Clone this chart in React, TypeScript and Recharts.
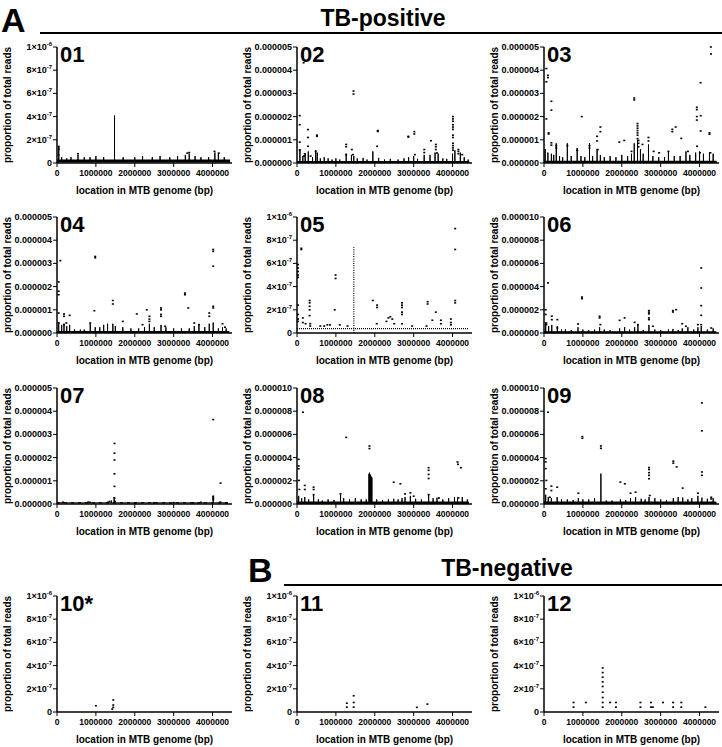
import React from "react";
import { ScatterChart, Scatter, XAxis, YAxis } from "recharts";

// [position in kb, proportion of total reads in units of 1e-8]
type Pt = [number, number];

const FONT = "'Liberation Sans', Arial, Helvetica, sans-serif";

const X_TICKS = [0, 1000000, 2000000, 3000000, 4000000];
const X_MAX = 4500000;
const Y_TICKS_SCI = [0, 20, 40, 60, 80, 100];
const Y_TICKS_5 = [0, 100, 200, 300, 400, 500];
const Y_TICKS_10 = [0, 200, 400, 600, 800, 1000];

// ---- 01 ----
const P01_SPIKES: Pt[] = [
  [45, 14], [120, 5], [250, 4], [360, 5], [540, 7], [700, 5], [850, 5], [1000, 6], [1200, 5],
  [1479, 41], [1700, 5], [2000, 5], [2200, 6], [2450, 5], [2650, 6], [2900, 5], [3100, 6],
  [3300, 7], [3400, 8], [3550, 6], [3700, 5], [3900, 5], [4060, 9], [4150, 8], [4300, 5],
];
const P01_DOTS: Pt[] = [
  [45, 14.3], [45, 12], [40, 7], [540, 8], [3350, 8.5], [3400, 9], [4050, 10], [4160, 8.5],
];

// ---- 02 ----
const P02_SPIKES: Pt[] = [
  [75, 60], [150, 30], [210, 40], [290, 50], [400, 25], [480, 55], [520, 45], [600, 20],
  [700, 25], [800, 20], [900, 15], [1000, 20], [1100, 15], [1265, 40], [1400, 35], [1460, 30],
  [1550, 20], [1700, 22], [1800, 15], [1950, 50], [2100, 22], [2250, 15], [2400, 18], [2600, 15],
  [2750, 20], [2870, 25], [3000, 30], [3100, 18], [3270, 35], [3420, 35], [3550, 45], [3630, 40],
  [3750, 20], [3850, 18], [4000, 40], [4060, 55], [4200, 45], [4300, 25], [4400, 15],
];
const P02_DOTS: Pt[] = [
  [170, 432], [70, 204], [70, 165], [70, 90], [70, 55], [282, 144], [282, 110], [282, 72],
  [513, 120], [513, 115], [480, 50], [1265, 80], [1265, 70], [1265, 36], [1410, 58], [1453, 310],
  [1453, 297], [1440, 36], [2077, 140], [2077, 136], [2060, 72], [2863, 115], [2863, 112],
  [3017, 135], [3017, 125], [3030, 36], [3273, 58], [3273, 45], [3444, 96], [3570, 80], [3570, 70],
  [3570, 58], [3600, 43], [4010, 200], [4010, 190], [4010, 180], [4010, 165], [4010, 155],
  [4010, 145], [4010, 120], [4010, 110], [4010, 85], [4010, 75], [4010, 65], [4010, 55],
  [4150, 58], [4150, 50], [4150, 40], [4250, 36], [200, 40], [180, 30], [350, 30],
];

// ---- 03 ----
const P03_SPIKES: Pt[] = [
  [30, 60], [100, 45], [190, 40], [250, 35], [315, 85], [400, 30], [480, 25], [600, 85],
  [700, 30], [853, 65], [950, 30], [1050, 25], [1170, 85], [1250, 30], [1365, 60], [1450, 35],
  [1550, 25], [1700, 30], [1850, 25], [2000, 35], [2150, 30], [2250, 40], [2320, 85], [2405, 100],
  [2480, 60], [2550, 40], [2687, 80], [2800, 30], [2950, 25], [3100, 25], [3200, 50], [3350, 30],
  [3500, 30], [3650, 50], [3750, 35], [3900, 45], [4000, 50], [4100, 40], [4255, 45], [4350, 40],
];
const P03_DOTS: Pt[] = [
  [60, 407], [60, 350], [100, 378], [100, 368], [190, 266], [190, 228], [60, 190], [120, 130],
  [120, 125], [190, 87], [190, 77], [315, 75], [315, 65], [600, 75], [853, 55], [972, 200],
  [1170, 75], [1170, 65], [1365, 115], [1365, 95], [1450, 155], [1450, 135], [1380, 58],
  [1936, 90], [2064, 97], [2320, 280], [2320, 272], [2250, 50], [2405, 170], [2405, 160],
  [2405, 150], [2405, 140], [2405, 130], [2405, 120], [2405, 105], [2430, 97], [2430, 85],
  [2430, 70], [2533, 80], [2687, 110], [2687, 95], [2820, 50], [2960, 44], [3200, 50],
  [3300, 145], [3300, 135], [3385, 155], [3530, 106], [3700, 50], [3930, 240], [3930, 230],
  [3930, 200], [3930, 185], [3935, 72], [4025, 346], [4030, 204], [4030, 138], [4010, 44],
  [4255, 130], [4255, 124], [4280, 44], [4290, 500], [4295, 470],
];

// ---- 04 ----
const P04_SPIKES: Pt[] = [
  [43, 45], [120, 35], [180, 40], [250, 30], [325, 35], [450, 15], [600, 15], [700, 15],
  [855, 40], [983, 25], [1100, 25], [1200, 35], [1300, 40], [1436, 40], [1500, 30], [1692, 25],
  [1900, 20], [2100, 20], [2250, 25], [2376, 40], [2500, 25], [2675, 35], [2800, 25], [3000, 20],
  [3200, 20], [3400, 20], [3530, 30], [3650, 35], [3800, 25], [3915, 40], [4017, 45], [4150, 20],
  [4256, 25], [4350, 20],
];
const P04_DOTS: Pt[] = [
  [85, 312], [43, 220], [43, 180], [43, 165], [43, 86], [43, 43], [180, 82], [180, 72],
  [180, 36], [325, 76], [240, 43], [983, 330], [983, 324], [960, 96], [855, 43], [1436, 140],
  [1436, 125], [1692, 50], [2051, 82], [2308, 100], [2200, 36], [2376, 72], [2376, 60],
  [2376, 50], [2675, 108], [2675, 100], [2675, 80], [2675, 72], [2780, 29], [3290, 172],
  [3290, 165], [3376, 108], [3530, 43], [3650, 36], [3915, 86], [3915, 72], [4017, 360],
  [4017, 352], [4017, 288], [4017, 115], [4017, 108], [4256, 40], [4320, 25],
];

// ---- 05 ----
const P05_SPIKES: Pt[] = [];
const P05_COLUMNS: Pt[] = [[1461, 74]];
const P05_DOTS: Pt[] = [
  [26, 59], [26, 56], [26, 53], [26, 50], [26, 48], [26, 24], [26, 16], [26, 12], [26, 10],
  [111, 73], [111, 72], [150, 13], [150, 9], [220, 8], [325, 28], [325, 26], [325, 23],
  [325, 20], [325, 15], [340, 8], [340, 6], [600, 6], [700, 6], [780, 7], [850, 7], [991, 50],
  [991, 47], [970, 20], [1100, 7], [1300, 6], [1949, 28], [2060, 24], [2060, 22], [2050, 8],
  [2300, 10], [2350, 13], [2400, 14], [2450, 12], [2500, 8], [2700, 26], [2700, 24], [2700, 22],
  [2700, 18], [2700, 16], [2700, 8], [2960, 6], [3359, 27], [3359, 25], [3330, 6], [3570, 18],
  [3480, 11], [3700, 11], [3700, 8], [3957, 12], [3957, 9], [3957, 7], [4068, 90], [4068, 72],
  [4068, 28], [4068, 26],
];

// ---- 06 ----
const P06_SPIKES: Pt[] = [
  [43, 90], [120, 60], [200, 70], [343, 60], [450, 30], [550, 30], [700, 25], [874, 50],
  [1000, 30], [1150, 25], [1300, 30], [1430, 50], [1550, 30], [1700, 25], [1944, 40], [2073, 50],
  [2200, 30], [2330, 50], [2415, 70], [2550, 25], [2698, 70], [2850, 30], [3000, 25], [3200, 30],
  [3315, 35], [3450, 25], [3555, 40], [3700, 50], [3850, 30], [3957, 50], [4043, 60], [4200, 30],
  [4350, 40],
];
const P06_DOTS: Pt[] = [
  [103, 432], [43, 200], [43, 160], [200, 145], [200, 115], [60, 86], [60, 72], [343, 115],
  [343, 43], [874, 78], [976, 310], [976, 296], [1430, 144], [1430, 130], [1450, 72], [1944, 109],
  [2073, 130], [2330, 92], [2415, 72], [2698, 193], [2698, 180], [2698, 165], [2698, 130],
  [2698, 115], [2800, 58], [3315, 193], [3315, 181], [3400, 201], [3555, 80], [3650, 58],
  [3957, 72], [4043, 561], [4043, 388], [4043, 236], [4043, 152], [4043, 72], [4300, 43],
];

// ---- 07 ----
const P07_SPIKES: Pt[] = [[170, 10], [800, 12], [1400, 15], [1470, 30], [4017, 35]];
const P07_DOTS: Pt[] = [
  [1479, 261], [1479, 219], [1479, 190], [1479, 130], [1479, 76], [1479, 26], [1490, 11],
  [4017, 364], [4017, 33], [4017, 26], [4017, 19], [4205, 90], [4200, 8], [1350, 11], [1300, 7],
  [850, 7], [150, 7], [2000, 5], [2500, 5], [3000, 6], [3500, 5], [3700, 7], [4350, 5],
];

// ---- 08 ----
const P08_SPIKES: Pt[] = [
  [43, 70], [120, 50], [200, 60], [300, 40], [427, 80], [550, 40], [650, 30], [800, 40],
  [950, 35], [1120, 80], [1200, 50], [1350, 40], [1500, 50], [1650, 40], [1780, 40], [1850, 260],
  [1865, 270], [1880, 255], [1895, 245], [1910, 235], [1925, 228], [2050, 40], [2200, 35],
  [2350, 40], [2487, 45], [2600, 40], [2700, 50], [2778, 60], [2915, 70], [3050, 45], [3200, 40],
  [3385, 81], [3500, 50], [3600, 55], [3750, 40], [3900, 50], [4050, 60], [4128, 55], [4250, 60],
  [4380, 40],
];
const P08_DOTS: Pt[] = [
  [154, 791], [43, 385], [43, 328], [43, 304], [50, 203], [60, 125], [200, 160], [200, 125],
  [427, 145], [427, 125], [427, 81], [1265, 574], [1120, 87], [1863, 500], [1863, 478],
  [2487, 188], [2658, 174], [2778, 87], [2915, 96], [3000, 67], [3385, 313], [3385, 290],
  [3385, 255], [3385, 220], [3385, 81], [3650, 52], [4128, 362], [4140, 342], [4214, 313],
  [4150, 52],
];

// ---- 09 ----
const P09_SPIKES: Pt[] = [
  [43, 80], [110, 60], [190, 50], [338, 60], [450, 40], [600, 40], [750, 35], [883, 50],
  [1000, 40], [1150, 40], [1300, 50], [1463, 262], [1600, 30], [1750, 30], [1965, 40], [2100, 35],
  [2225, 50], [2355, 60], [2500, 45], [2600, 40], [2701, 60], [2850, 50], [3000, 40], [3150, 35],
  [3325, 50], [3450, 60], [3567, 55], [3700, 40], [3800, 50], [3957, 70], [4060, 55], [4200, 45],
  [4350, 50],
];
const P09_DOTS: Pt[] = [
  [104, 791], [43, 392], [43, 363], [43, 305], [60, 203], [43, 131], [190, 154], [190, 116],
  [338, 145], [150, 58], [987, 581], [987, 567], [883, 93], [1463, 500], [1463, 480], [1965, 189],
  [2078, 174], [2225, 93], [2355, 102], [2701, 314], [2701, 297], [2701, 270], [2701, 247],
  [2701, 218], [2720, 73], [3325, 369], [3325, 352], [3411, 320], [3567, 137], [3957, 93],
  [4060, 872], [4060, 631], [4060, 276], [4060, 247], [4300, 58], [4300, 44],
];

// ---- 10 / 11 / 12 ----
const P10_DOTS: Pt[] = [[1000, 5.4], [1447, 10.4], [1447, 6], [1447, 4], [1420, 2.5]];
const P11_DOTS: Pt[] = [
  [1282, 7.6], [1282, 4.2], [1458, 14], [1458, 8.2], [1458, 4.2], [3082, 4], [3353, 6.8],
];
const P12_DOTS: Pt[] = [
  [760, 8.2], [760, 4.2], [1076, 8.2], [1509, 38], [1509, 34], [1509, 30], [1509, 26], [1509, 22],
  [1509, 17], [1509, 12.5], [1509, 8.2], [1509, 4.2], [1700, 8.2], [1850, 8.2], [1850, 4.2],
  [2480, 8.2], [2480, 4.2], [2750, 8.2], [2750, 4.2], [2800, 4.2], [3060, 8.2], [3320, 8.2],
  [3320, 4.2], [3530, 8.2], [3530, 4.2], [4150, 4.2],
];

interface PanelDef {
  id: string;
  col: number;
  row: number;
  ticks: number[];
  sci: boolean;
  band?: number;
  bandW?: number;
  bandDash?: string;
  bandEnd?: number;
  spikes: Pt[];
  dots: Pt[];
  columns?: Pt[];
}

const PANELS: PanelDef[] = [
  { id: "01", col: 0, row: 0, ticks: Y_TICKS_SCI, sci: true, band: 1.8, bandW: 3, bandEnd: 4450, spikes: P01_SPIKES, dots: P01_DOTS },
  { id: "02", col: 1, row: 0, ticks: Y_TICKS_5, sci: false, band: 4, bandW: 2, bandEnd: 4430, spikes: P02_SPIKES, dots: P02_DOTS },
  { id: "03", col: 2, row: 0, ticks: Y_TICKS_5, sci: false, band: 5, bandW: 2.2, bandEnd: 4440, spikes: P03_SPIKES, dots: P03_DOTS },
  { id: "04", col: 0, row: 1, ticks: Y_TICKS_5, sci: false, band: 4, bandW: 2, bandEnd: 4430, spikes: P04_SPIKES, dots: P04_DOTS },
  { id: "05", col: 1, row: 1, ticks: Y_TICKS_SCI, sci: true, band: 3.7, bandW: 1.2, bandDash: "1 1", bandEnd: 4400, spikes: P05_SPIKES, dots: P05_DOTS, columns: P05_COLUMNS },
  { id: "06", col: 2, row: 1, ticks: Y_TICKS_10, sci: false, band: 6, bandW: 2, bandEnd: 4430, spikes: P06_SPIKES, dots: P06_DOTS },
  { id: "07", col: 0, row: 2, ticks: Y_TICKS_5, sci: false, band: 5, bandW: 1.2, bandDash: "3 4", bandEnd: 4400, spikes: P07_SPIKES, dots: P07_DOTS },
  { id: "08", col: 1, row: 2, ticks: Y_TICKS_10, sci: false, band: 10, bandW: 2.5, bandEnd: 4420, spikes: P08_SPIKES, dots: P08_DOTS },
  { id: "09", col: 2, row: 2, ticks: Y_TICKS_10, sci: false, band: 10, bandW: 2.5, bandEnd: 4430, spikes: P09_SPIKES, dots: P09_DOTS },
  { id: "10*", col: 0, row: 3, ticks: Y_TICKS_SCI, sci: true, spikes: [], dots: P10_DOTS },
  { id: "11", col: 1, row: 3, ticks: Y_TICKS_SCI, sci: true, spikes: [], dots: P11_DOTS },
  { id: "12", col: 2, row: 3, ticks: Y_TICKS_SCI, sci: true, spikes: [], dots: P12_DOTS },
];

// layout
const COL_X = [57, 297, 544];
const ROW_TOP = [47, 217, 388, 596];
const PLOT_W = 175;
const PLOT_H = 116;
const Y_AXIS_W = 57;
const X_AXIS_H = 36;
const M_TOP = 10;
const M_RIGHT = 3;

const Empty = () => <g />;
const Mark = (props: any) => (
  <rect x={props.cx - 1} y={props.cy - 0.8} width={2} height={1.6} fill="#000" />
);

const XTick = (props: any) => (
  <text x={props.x} y={props.y} dy={7} textAnchor="middle" fontSize={8.5} fontWeight="bold" fontFamily={FONT} fill="#000">
    {props.payload.value}
  </text>
);

function YTick(props: any) {
  const u: number = props.payload.value;
  const common = { x: props.x, y: props.y, dy: 3, textAnchor: "end" as const, fontSize: 9, fontWeight: "bold", fontFamily: FONT, fill: "#000" };
  if (!props.sci) {
    return <text {...common}>{(u * 1e-8).toFixed(6)}</text>;
  }
  if (u === 0) return <text {...common}>0</text>;
  const e = Math.floor(Math.log10(u) + 1e-9);
  const m = Math.round(u / Math.pow(10, e));
  return (
    <text {...common}>
      <tspan>{`${m}×10`}</tspan>
      <tspan dy={-4} fontSize={6}>{`-${8 - e}`}</tspan>
    </text>
  );
}

const XLabel = (props: any) => {
  const vb = props.viewBox;
  return (
    <text x={vb.x + vb.width / 2} y={vb.y + 31} textAnchor="middle" fontSize={10} fontWeight="bold" fontFamily={FONT} fill="#000">
      location in MTB genome (bp)
    </text>
  );
};

const YLabel = (props: any) => {
  const vb = props.viewBox;
  const cx = vb.x + 7;
  const cy = vb.y + vb.height / 2;
  return (
    <text x={cx} y={cy} transform={`rotate(-90 ${cx} ${cy})`} textAnchor="middle" dominantBaseline="central" fontSize={10} fontWeight="bold" fontFamily={FONT} fill="#000">
      proportion of total reads
    </text>
  );
};

function Panel({ p }: { p: PanelDef }) {
  const left = COL_X[p.col] - Y_AXIS_W;
  const top = ROW_TOP[p.row] - M_TOP;
  const dots = p.dots.map(([k, u]) => ({ x: k * 1000, y: u }));
  const b = p.band;
  const bandLine = b == null ? [] : [{ x: 0, y: b }, { x: (p.bandEnd ?? 4400) * 1000, y: b }];
  const spikeLine =
    b == null || p.spikes.length === 0
      ? []
      : [
          { x: 0, y: b },
          ...p.spikes.flatMap(([k, h]) => [
            { x: k * 1000, y: b },
            { x: k * 1000, y: h },
            { x: k * 1000, y: b },
          ]),
          { x: (p.bandEnd ?? 4400) * 1000, y: b },
        ];
  const yMax = p.ticks[p.ticks.length - 1];
  return (
    <div style={{ position: "absolute", left, top }}>
      <ScatterChart
        width={Y_AXIS_W + PLOT_W + M_RIGHT}
        height={M_TOP + PLOT_H + X_AXIS_H}
        margin={{ top: M_TOP, right: M_RIGHT, bottom: 0, left: 0 }}
      >
        <XAxis
          type="number"
          dataKey="x"
          domain={[0, X_MAX]}
          ticks={X_TICKS}
          interval={0}
          height={X_AXIS_H}
          tickSize={4}
          tickMargin={2}
          tick={XTick}
          axisLine={{ stroke: "#000", strokeWidth: 1.5 }}
          tickLine={{ stroke: "#000", strokeWidth: 1 }}
          label={{ content: XLabel }}
        />
        <YAxis
          type="number"
          dataKey="y"
          domain={[0, yMax]}
          ticks={p.ticks}
          interval={0}
          width={Y_AXIS_W}
          tickSize={4}
          tickMargin={1}
          tick={(t: any) => <YTick {...t} sci={p.sci} />}
          axisLine={{ stroke: "#000", strokeWidth: 1.5 }}
          tickLine={{ stroke: "#000", strokeWidth: 1 }}
          label={{ content: YLabel }}
        />
        {bandLine.length > 0 && (
          <Scatter
            data={bandLine}
            fill="#000"
            line={{ stroke: "#000", strokeWidth: p.bandW, strokeDasharray: p.bandDash }}
            shape={Empty}
            isAnimationActive={false}
          />
        )}
        {spikeLine.length > 0 && (
          <Scatter
            data={spikeLine}
            fill="#000"
            line={{ stroke: "#000", strokeWidth: 1 }}
            shape={Empty}
            isAnimationActive={false}
          />
        )}
        {(p.columns ?? []).map(([k, h], i) => (
          <Scatter
            key={i}
            data={[{ x: k * 1000, y: 0 }, { x: k * 1000, y: h }]}
            fill="#000"
            line={{ stroke: "#000", strokeWidth: 1.2, strokeDasharray: "1 1.3" }}
            shape={Empty}
            isAnimationActive={false}
          />
        ))}
        <Scatter data={dots} fill="#000" shape={Mark} isAnimationActive={false} />
      </ScatterChart>
    </div>
  );
}

export default function App() {
  return (
    <div style={{ position: "absolute", left: 0, top: 0, width: 722, height: 747, overflow: "hidden", background: "#fff" }}>
      {PANELS.map((p) => (
        <Panel key={p.id} p={p} />
      ))}
      <svg width={722} height={747} style={{ position: "absolute", left: 0, top: 0, pointerEvents: "none" }}>
        <g fontFamily={FONT} fontWeight="bold" fill="#000">
          <text x={1} y={32} fontSize={34}>A</text>
          <text x={383} y={26} fontSize={23} textAnchor="middle">TB-positive</text>
          <line x1={40} x2={722} y1={33} y2={33} stroke="#000" strokeWidth={2} />
          <text x={248} y={582} fontSize={34}>B</text>
          <text x={507} y={576} fontSize={23} textAnchor="middle">TB-negative</text>
          <line x1={284} x2={722} y1={585} y2={585} stroke="#000" strokeWidth={2} />
          {PANELS.map((p) => (
            <text key={p.id} x={COL_X[p.col] + 3} y={ROW_TOP[p.row] + 15} fontSize={22}>
              {p.id}
            </text>
          ))}
        </g>
      </svg>
    </div>
  );
}
